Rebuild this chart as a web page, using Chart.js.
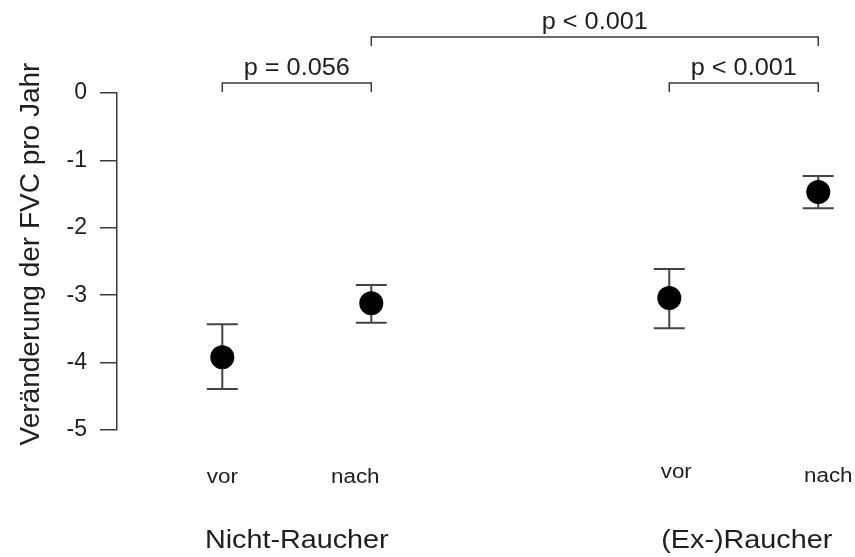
<!DOCTYPE html>
<html>
<head>
<meta charset="utf-8">
<script src="https://cdn.jsdelivr.net/npm/chart.js@4"></script>
<style>
  html, body { margin: 0; padding: 0; background: #fff; }
  #wrap { width: 855px; height: 557px; }
</style>
</head>
<body>
<div id="wrap"><canvas id="fvcChart" width="855" height="557"></canvas></div>
<script>
// data
const groups = ['Nicht-Raucher', '(Ex-)Raucher'];
const timepoints = ['vor', 'nach', 'vor', 'nach'];
const xPos = [1, 2, 4, 5];
const means = [-3.92, -3.12, -3.04, -1.47];
const upper = [-3.43, -2.85, -2.61, -1.23];
const lower = [-4.39, -3.41, -3.49, -1.71];
const yTicks = [0, -1, -2, -3, -4, -5];
// comparisons: [from index, to index, label, level]
const comparisons = [
    [0, 1, 'p = 0.056', 0],
    [2, 3, 'p < 0.001', 0],
    [1, 3, 'p < 0.001', 1]
];

const ink = '#1e1e1e';
const lineCol = '#3a3a3a';
const fontFam = '"Liberation Sans", Arial, sans-serif';

function wideText(ctx, text, x, y, sx) {
    ctx.save();
    ctx.translate(x, y);
    ctx.scale(sx, 1);
    ctx.fillText(text, 0, 0);
    ctx.restore();
}

const errorBars = {
    id: 'errorBars',
    beforeDatasetsDraw(chart) {
        const ctx = chart.ctx;
        const xs = chart.scales.x, ys = chart.scales.y;
        ctx.save();
        ctx.strokeStyle = '#444';
        ctx.lineWidth = 2;
        xPos.forEach((xv, i) => {
            const px = xs.getPixelForValue(xv);
            const top = ys.getPixelForValue(upper[i]);
            const bot = ys.getPixelForValue(lower[i]);
            ctx.beginPath();
            ctx.moveTo(px, top); ctx.lineTo(px, bot);
            ctx.moveTo(px - 15.5, top); ctx.lineTo(px + 15.5, top);
            ctx.moveTo(px - 15.5, bot); ctx.lineTo(px + 15.5, bot);
            ctx.stroke();
        });
        ctx.restore();
    }
};

const annotations = {
    id: 'annotations',
    afterDraw(chart) {
        const ctx = chart.ctx;
        const xs = chart.scales.x;
        const area = chart.chartArea;
        ctx.save();

        // significance brackets
        ctx.strokeStyle = lineCol;
        ctx.lineWidth = 1.5;
        ctx.fillStyle = ink;
        ctx.textAlign = 'center';
        ctx.textBaseline = 'alphabetic';
        ctx.font = '23px ' + fontFam;
        comparisons.forEach(([a, b, label, level]) => {
            const x1 = xs.getPixelForValue(xPos[a]);
            const x2 = xs.getPixelForValue(xPos[b]);
            const yLine = area.top - 10 - level * 46;
            ctx.beginPath();
            ctx.moveTo(x1, yLine + 9); ctx.lineTo(x1, yLine);
            ctx.lineTo(x2, yLine); ctx.lineTo(x2, yLine + 9);
            ctx.stroke();
            wideText(ctx, label, (x1 + x2) / 2, yLine - 8, 1.1);
        });

        // vor / nach labels
        const nudgeX = [0, -16, 7, 10];
        const nudgeY = [0, 0, -5, -1];
        ctx.font = '20px ' + fontFam;
        timepoints.forEach((t, i) => {
            const px = xs.getPixelForValue(xPos[i]) + nudgeX[i];
            wideText(ctx, t, px, 483 + nudgeY[i], 1.12);
        });

        // group labels
        ctx.font = '25px ' + fontFam;
        groups.forEach((g, k) => {
            const px = (xs.getPixelForValue(xPos[2 * k]) + xs.getPixelForValue(xPos[2 * k + 1])) / 2;
            wideText(ctx, g, px + k * 3, 548, 1.15);
        });

        // y axis title
        ctx.font = '28px ' + fontFam;
        ctx.textBaseline = 'middle';
        ctx.translate(31, 254);
        ctx.rotate(-Math.PI / 2);
        ctx.fillText('Veränderung der FVC pro Jahr', 0, 0);
        ctx.restore();
    }
};

const ctx = document.getElementById('fvcChart').getContext('2d');

new Chart(ctx, {
    type: 'scatter',
    data: {
        datasets: [{
            label: 'FVC',
            data: xPos.map((x, i) => ({ x: x, y: means[i] })),
            pointRadius: 12,
            pointHoverRadius: 12,
            pointBackgroundColor: '#000',
            pointBorderWidth: 0
        }]
    },
    options: {
        responsive: false,
        animation: false,
        events: [],
        layout: { padding: { top: 93, bottom: 127, left: 0, right: 7 } },
        plugins: {
            legend: { display: false },
            tooltip: { enabled: false }
        },
        scales: {
            x: {
                type: 'linear',
                display: false,
                min: 0.2933,
                max: 5.166
            },
            y: {
                min: -5,
                max: 0,
                afterFit(axis) { axis.width = 117; },
                afterBuildTicks(axis) { axis.ticks = yTicks.map(v => ({ value: v })); },
                border: { display: true, color: lineCol, width: 1.5 },
                grid: {
                    drawOnChartArea: false,
                    drawTicks: true,
                    tickLength: 17,
                    color: lineCol,
                    lineWidth: 1.5
                },
                ticks: {
                    padding: 13,
                    color: ink,
                    font: { family: fontFam, size: 23 },
                    callback: v => String(v)
                }
            }
        }
    },
    plugins: [errorBars, annotations]
});
</script>
</body>
</html>
